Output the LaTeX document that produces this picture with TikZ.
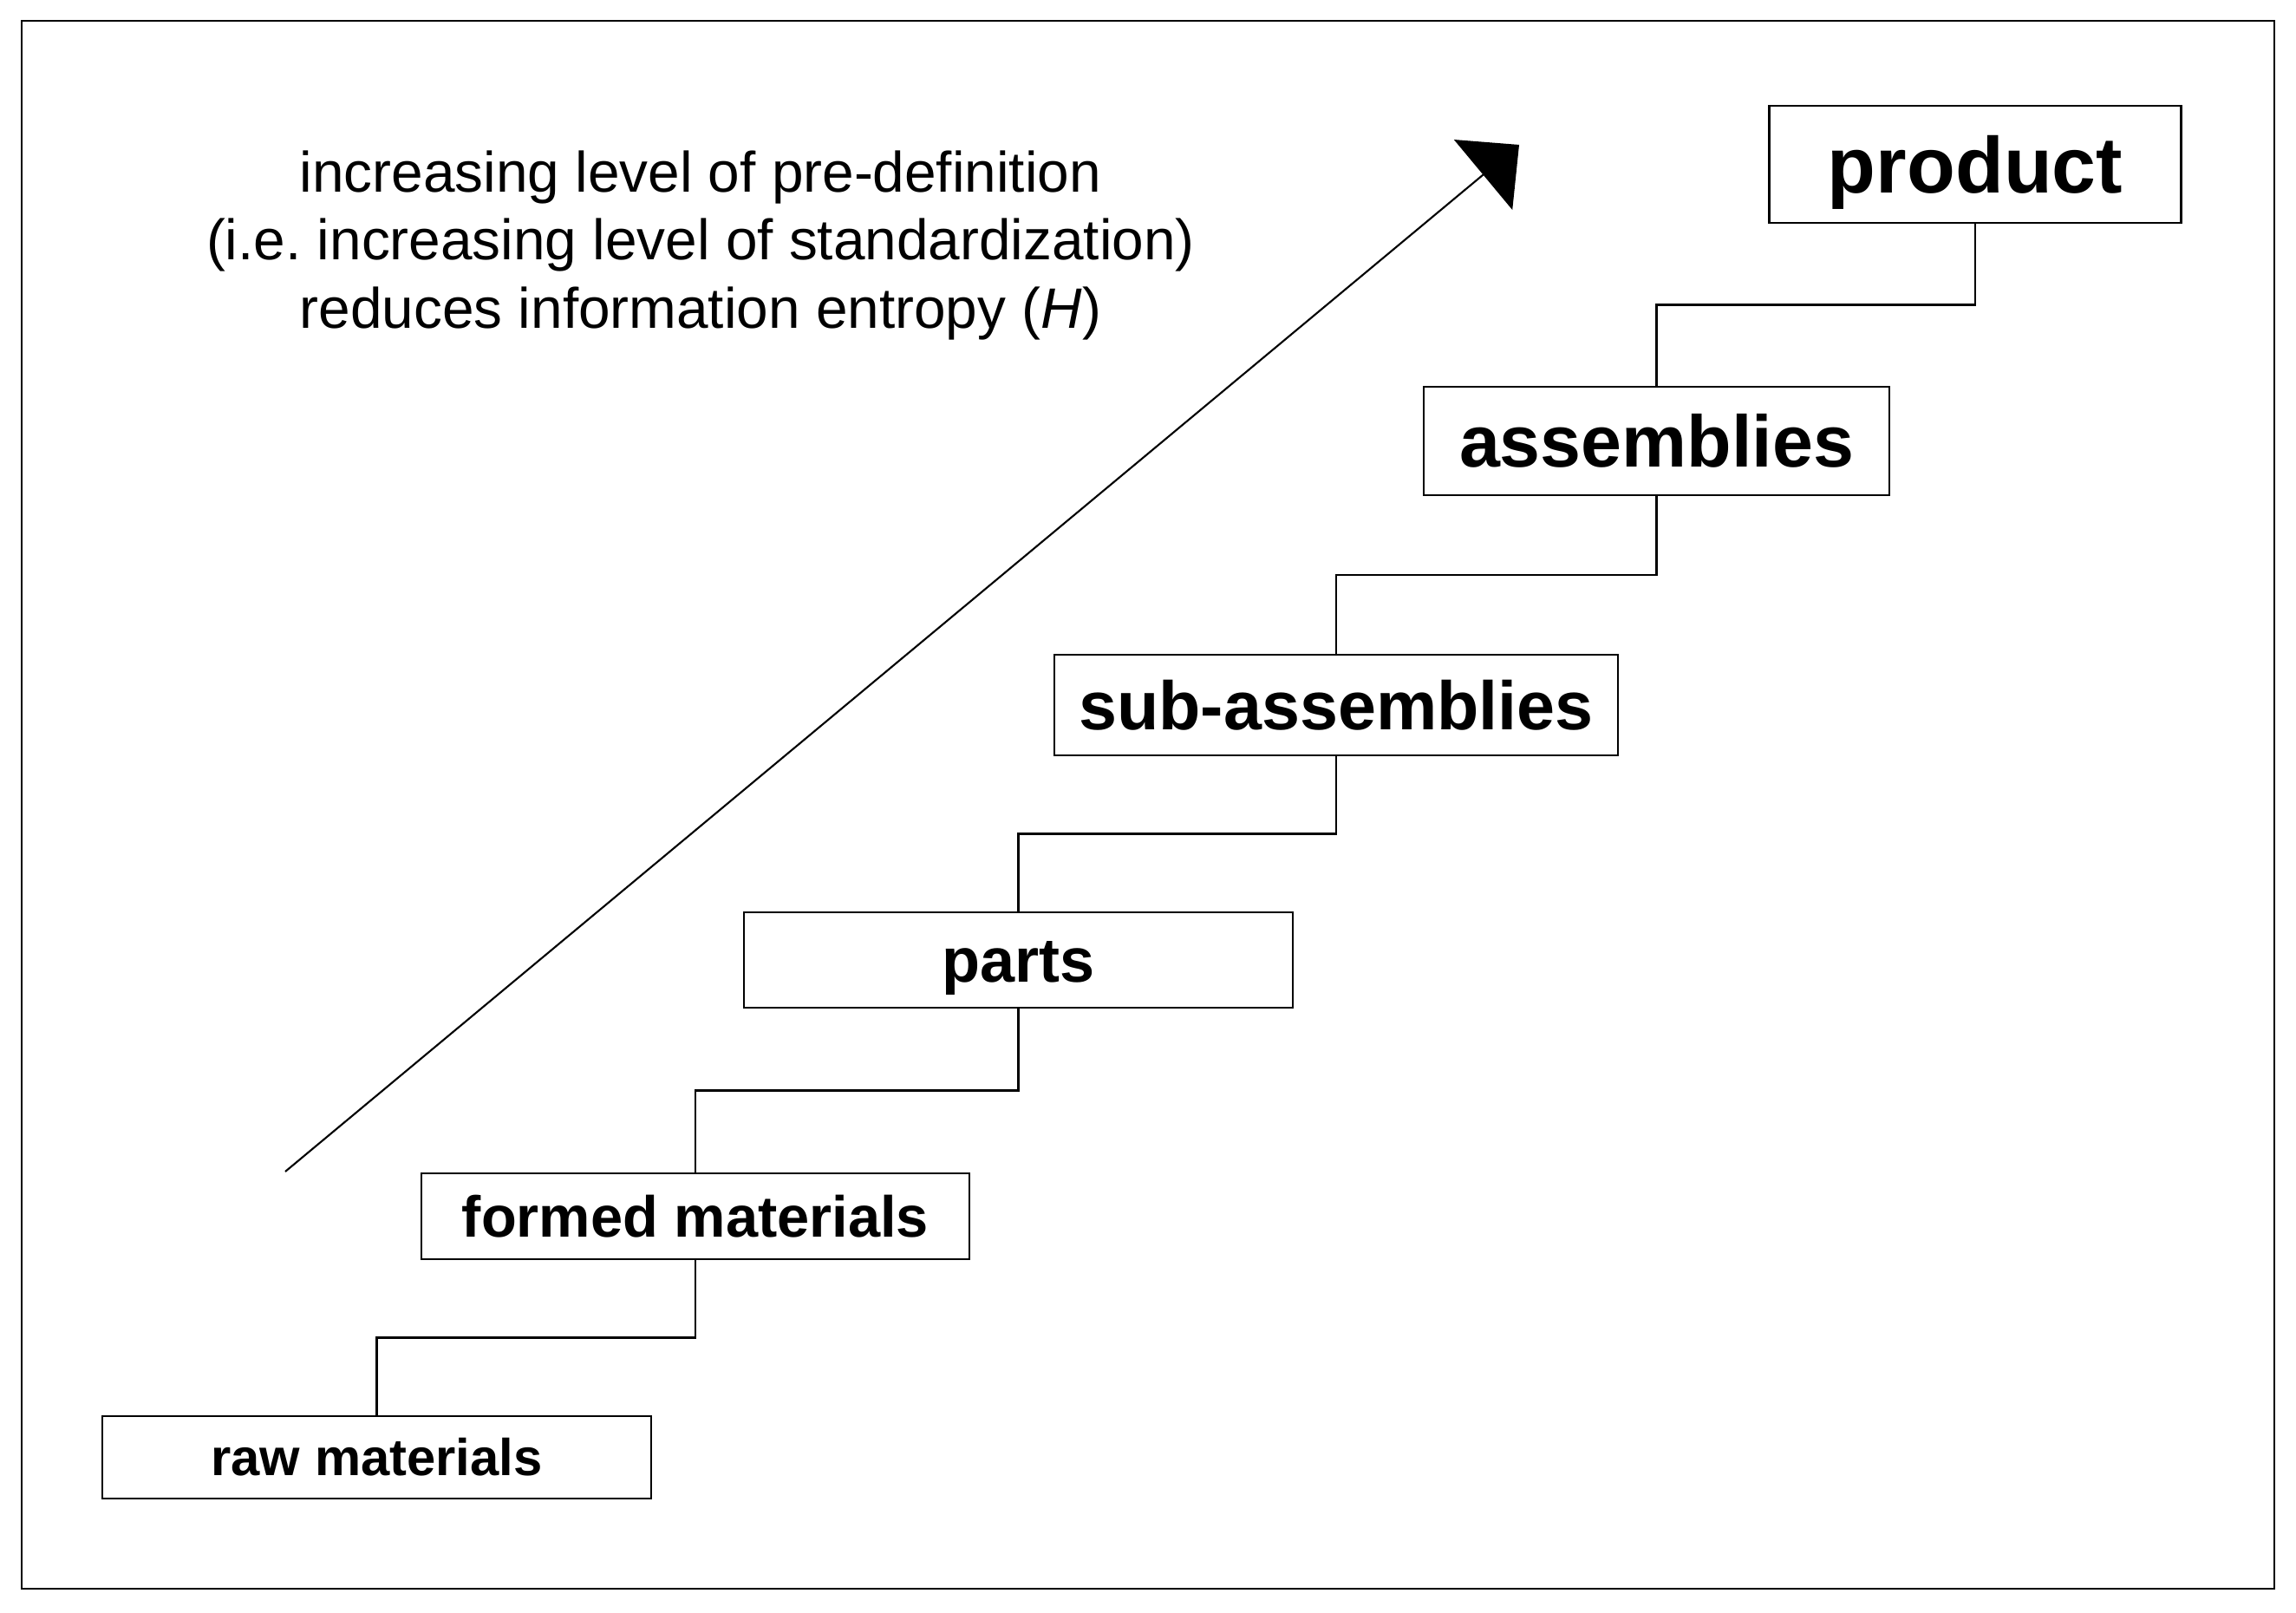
\documentclass[tikz,border=0pt]{standalone}
\usepackage{fontspec}
\setmainfont{Liberation Sans}
\usetikzlibrary{calc,arrows.meta}

\begin{document}
\begin{tikzpicture}[
    level/.style={draw, line width=0.7pt, inner sep=0pt, text depth=0pt},
    link/.style={line width=0.6pt}
  ]
        \useasboundingbox (0,0) rectangle (26.48,18.60);
        \draw[line width=0.6pt] (0.25,0.28) rectangle (26.23,18.36);
        \node[level, minimum width=6.33cm, minimum height=0.95cm, text height=12.2pt, font=\bfseries\fontsize{17}{20}\selectfont] (raw) at (4.345,1.795) {raw materials};
        \node[level, minimum width=6.32cm, minimum height=0.99cm, text height=13.7pt, font=\bfseries\fontsize{19}{22}\selectfont] (formed) at (8.02,4.575) {formed materials};
        \node[level, minimum width=6.33cm, minimum height=1.10cm, text height=14.8pt, font=\bfseries\fontsize{20.5}{24}\selectfont] (parts) at (11.745,7.53) {parts};
        \node[level, minimum width=6.50cm, minimum height=1.16cm, text height=16.2pt, font=\bfseries\fontsize{22.5}{26}\selectfont] (sub) at (15.41,10.47) {sub-assemblies};
        \node[level, minimum width=5.37cm, minimum height=1.25cm, text height=17.3pt, font=\bfseries\fontsize{24}{28}\selectfont] (assy) at (19.105,13.515) {assemblies};
        \node[level, minimum width=4.75cm, minimum height=1.35cm, text height=18.7pt, font=\bfseries\fontsize{26}{30}\selectfont] (product) at (22.78,16.705) {product};
        \foreach \a/\b in {raw/formed, formed/parts, parts/sub, sub/assy, assy/product}
            \draw[link] (\a.north) |- ($(\a.north)!0.5!(\b.south)$) -| (\b.south);
        \coordinate (from) at (3.29,5.09);
        \coordinate (to) at (17.52,16.93);
        \draw[line width=0.6pt, -{Triangle[length=5.4mm, width=10.5mm]}] (from) -- (to);
        \node[align=center, font=\fontsize{18.7}{22.3}\selectfont] (note) at (8.08,15.77)
            {increasing level of pre-definition\\(i.e.\ increasing level of standardization)\\reduces information entropy (\textit{H})};
    \end{tikzpicture}
\end{document}
